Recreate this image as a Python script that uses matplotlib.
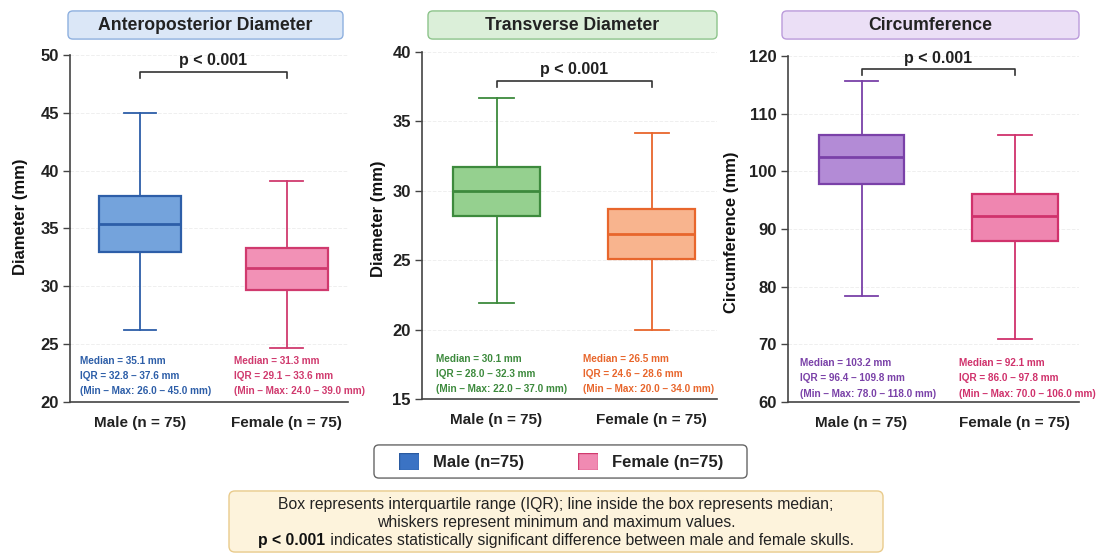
import matplotlib
matplotlib.use("Agg")
import matplotlib.pyplot as plt
from matplotlib.patches import FancyBboxPatch, Rectangle
import matplotlib.transforms as mtransforms

plt.rcParams["font.family"] = ["Liberation Sans", "DejaVu Sans"]

# ---- data ----
panels = ["Anteroposterior Diameter", "Transverse Diameter", "Circumference"]
ylabels = ["Diameter (mm)", "Diameter (mm)", "Circumference (mm)"]
groups = ["Male (n = 75)", "Female (n = 75)"]

# drawn boxes: [whislo, q1, med, q3, whishi]
male_box = [[26.2, 33.0, 35.4, 37.8, 45.0],
            [21.9, 28.2, 30.0, 31.7, 36.7],
            [78.4, 97.8, 102.5, 106.3, 115.7]]
female_box = [[24.7, 29.7, 31.6, 33.3, 39.1],
              [20.0, 25.1, 26.9, 28.7, 34.2],
              [71.0, 87.9, 92.3, 96.1, 106.3]]

# printed summary numbers
male_txt = [("35.1", "32.8", "37.6", "26.0", "45.0"),
            ("30.1", "28.0", "32.3", "22.0", "37.0"),
            ("103.2", "96.4", "109.8", "78.0", "118.0")]
female_txt = [("31.3", "29.1", "33.6", "24.0", "39.0"),
              ("26.5", "24.6", "28.6", "20.0", "34.0"),
              ("92.1", "86.0", "97.8", "70.0", "106.0")]

ylims = [(20, 50), (15, 40), (60, 120)]
ysteps = [5, 5, 10]
pval = "p < 0.001"

# ---- styles ----
male_face = ["#74a3dc", "#95d08f", "#b38bd6"]
male_edge = ["#2d5ea8", "#3d8a3d", "#7a41a8"]
female_face = ["#f291b6", "#f8b48e", "#ef86b0"]
female_edge = ["#d03a6e", "#e8662c", "#d0326c"]
title_face = ["#dbe7f7", "#dbefd9", "#ebdff6"]
title_edge = ["#8eb0df", "#8dc48b", "#bb9bdb"]

W, H = 1104, 554
fig = plt.figure(figsize=(W / 100, H / 100), dpi=100)


def rect(x0, y0, x1, y1):
    return [x0 / W, 1 - y1 / H, (x1 - x0) / W, (y1 - y0) / H]


def px(x, y):
    return x / W, 1 - y / H


def rounded_panel(x0, y0, x1, y1, face, edge, lw=1.0, r=6):
    a = fig.add_axes(rect(x0, y0, x1, y1))
    a.set_xlim(-1, x1 - x0 + 1)
    a.set_ylim(-1, y1 - y0 + 1)
    a.axis("off")
    a.add_patch(FancyBboxPatch((0, 0), x1 - x0, y1 - y0,
                               boxstyle=f"round,pad=0,rounding_size={r}",
                               fc=face, ec=edge, lw=lw))
    return a


ax_px = [(70, 55, 348, 402), (422, 52, 717, 399), (788, 56, 1079, 402)]
title_px = [(67, 10, 344, 40), (427, 10, 718, 40), (781, 10, 1080, 40)]
ylab_px = [(21, 217), (379, 219), (732, 232)]
bracket_y = [(0.951, 0.934, 0.983), (0.917, 0.900, 0.951), (0.962, 0.946, 0.994)]
ann_x = [(80, 234), (436, 583), (800, 959)]
ann_y = [(361, 376, 391), (359, 374, 389), (363, 378, 394)]

for i in range(3):
    ax = fig.add_axes(rect(*ax_px[i]))
    stats = []
    for b in (male_box[i], female_box[i]):
        stats.append(dict(whislo=b[0], q1=b[1], med=b[2], q3=b[3], whishi=b[4], fliers=[]))
    art = ax.bxp(stats, positions=[1, 2], widths=0.56, capwidths=0.22,
                 showfliers=False, patch_artist=True)
    faces = [male_face[i], female_face[i]]
    edges = [male_edge[i], female_edge[i]]
    for j in range(2):
        art["boxes"][j].set(facecolor=faces[j], edgecolor=edges[j], linewidth=1.6)
        art["medians"][j].set(color=edges[j], linewidth=2.0)
        for k in (2 * j, 2 * j + 1):
            art["whiskers"][k].set(color=edges[j], linewidth=1.3)
            art["caps"][k].set(color=edges[j], linewidth=1.3)

    lo, hi = ylims[i]
    ax.set_ylim(lo, hi)
    ax.set_xlim(0.52, 2.42)
    ax.set_yticks(range(lo, hi + 1, ysteps[i]))
    ax.set_xticks([1, 2])
    ax.set_xticklabels(groups, fontsize=11, fontweight="bold", color="#222222")
    for t in ax.get_yticklabels():
        t.set_fontsize(12)
        t.set_fontweight("bold")
        t.set_color("#222222")
    ax.tick_params(axis="x", length=0, pad=10)
    ax.tick_params(axis="y", length=5, width=1, color="#444444", pad=3)
    for s in ("top", "right"):
        ax.spines[s].set_visible(False)
    for s in ("left", "bottom"):
        ax.spines[s].set_color("#444444")
        ax.spines[s].set_linewidth(1.2)
    ax.yaxis.grid(True, linestyle="--", color="#efefef", linewidth=0.7)
    ax.set_axisbelow(True)
    ax.patch.set_alpha(0)

    # significance bracket
    tr = mtransforms.blended_transform_factory(ax.transData, ax.transAxes)
    yb, yt, ytx = bracket_y[i]
    ax.plot([1, 1, 2, 2], [yt, yb, yb, yt], color="#333333", lw=1.2,
            transform=tr, clip_on=False)
    ax.text(1.5, ytx, pval, transform=tr, ha="center", va="center",
            fontsize=11.5, fontweight="bold", color="#222222")

    # title box
    x0, y0, x1, y1 = title_px[i]
    rounded_panel(x0, y0, x1, y1, title_face[i], title_edge[i], lw=1.0, r=5)
    fig.text(*px((x0 + x1) / 2, (y0 + y1) / 2), panels[i], ha="center", va="center",
             fontsize=12.7, fontweight="bold", color="#222222")

    fig.text(*px(*ylab_px[i]), ylabels[i], rotation=90, ha="center", va="center",
             fontsize=12, fontweight="bold", color="#111111")

    # summary annotations
    for j, (vals, col) in enumerate(((male_txt[i], male_edge[i]), (female_txt[i], female_edge[i]))):
        med, q1, q3, mn, mx = vals
        lines = [f"Median = {med} mm", f"IQR = {q1} – {q3} mm", f"(Min – Max: {mn} – {mx} mm)"]
        for k, line in enumerate(lines):
            fig.text(*px(ann_x[i][j], ann_y[i][k]), line, ha="left", va="center",
                     fontsize=7.2, fontweight="bold", color=col)

# legend
rounded_panel(373, 444, 748, 479, "white", "#666666", lw=1.0, r=5)
leg_items = [("Male (n=75)", "#3b73c4", "#2a5aa0", 399, 433),
             ("Female (n=75)", "#f08ab2", "#d03a6e", 578, 612)]
for label, fc, ec, sx, tx in leg_items:
    sa = fig.add_axes(rect(sx, 453, sx + 20, 470))
    sa.axis("off")
    sa.add_patch(Rectangle((0, 0), 1, 1, fc=fc, ec=ec, lw=1.0, transform=sa.transAxes))
    fig.text(*px(tx, 462), label, ha="left", va="center", fontsize=12,
             fontweight="bold", color="#222222")

# footnote
rounded_panel(228, 490, 884, 553, "#fdf3dc", "#e9cb8c", lw=1.0, r=6)
note1 = "Box represents interquartile range (IQR); line inside the box represents median;"
note2 = "whiskers represent minimum and maximum values."
note3a = "p < 0.001"
note3b = " indicates statistically significant difference between male and female skulls."
fs = 11.3
fig.text(*px(556, 505), note1, ha="center", va="center", fontsize=fs, color="#222222")
fig.text(*px(556, 523), note2, ha="center", va="center", fontsize=fs, color="#222222")
ta = fig.text(0, 0, note3a, ha="left", va="center", fontsize=fs, fontweight="bold", color="#111111")
tb = fig.text(0, 0, note3b, ha="left", va="center", fontsize=fs, color="#222222")
fig.canvas.draw()
r = fig.canvas.get_renderer()
wa = ta.get_window_extent(r).width
wb = tb.get_window_extent(r).width
start = 556 - (wa + wb) / 2
ta.set_position(px(start, 541))
tb.set_position(px(start + wa, 541))

fig.savefig("out.png", dpi=100)
